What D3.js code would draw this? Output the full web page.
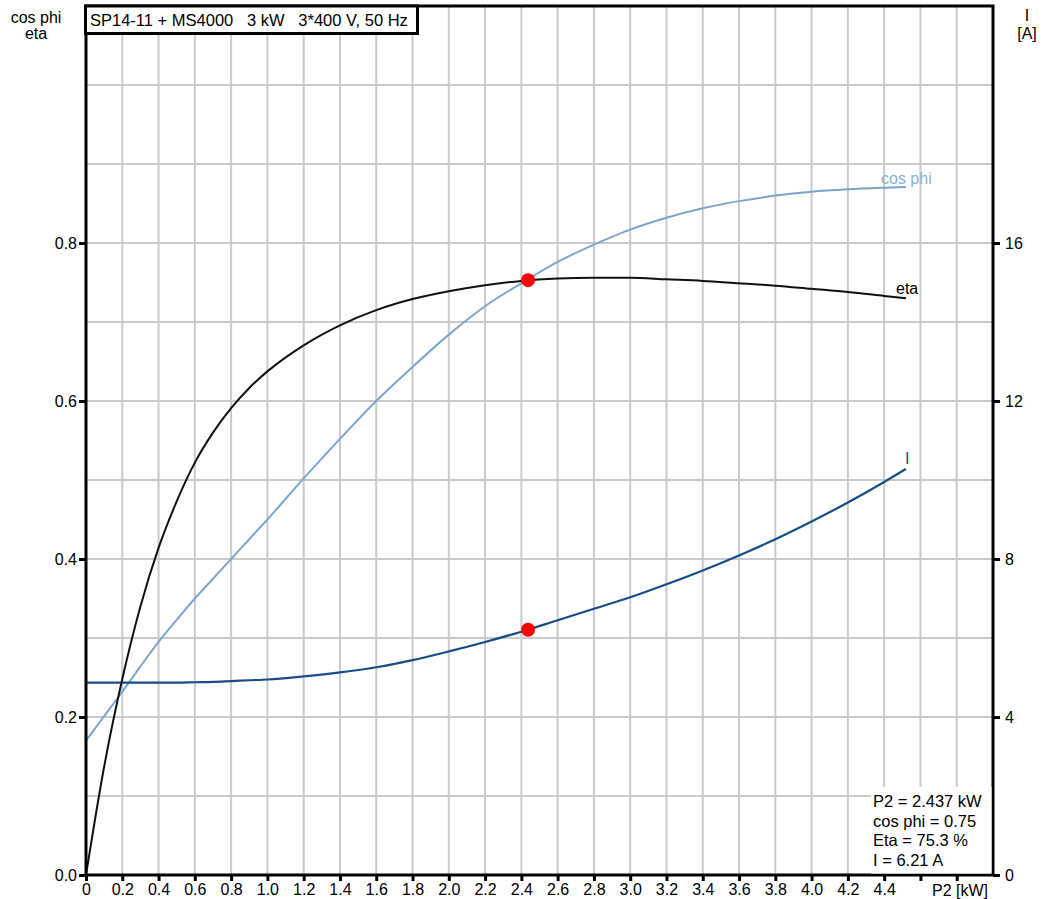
<!DOCTYPE html>
<html>
<head>
<meta charset="utf-8">
<script src="https://cdn.jsdelivr.net/npm/d3@7"></script>
<style>
  html, body { margin: 0; padding: 0; background: #fff; }
  svg { display: block; font-family: "Liberation Sans", Arial, sans-serif; }
</style>
</head>
<body>
<svg id="chart" width="1049" height="899"></svg>
<script>
// Motor curves: shaft power P2 [kW] against cos phi, efficiency and current
const p2 =     [0,    0.1,  0.2,  0.3,  0.4,  0.5,  0.6,  0.7,  0.8,  0.9,   1.0,   1.2,   1.4,   1.6,  1.8,  2.0,  2.2,   2.4,  2.6,  2.8,  3.0,  3.2,  3.4,  3.6,  3.8,  4.0,  4.2,  4.4,  4.52];
const cosPhi = [0.170,0.201,0.232,0.264,0.295,0.323,0.350,0.375,0.400,0.425, 0.450, 0.502, 0.552, 0.600,0.643,0.684,0.720, 0.749,0.776,0.798,0.817,0.832,0.844,0.853,0.860,0.865,0.868,0.870,0.871];
const eta =    [0,    0.137,0.248,0.340,0.414,0.473,0.522,0.560,0.591,0.6165,0.6375,0.6705,0.6958,0.715,0.729,0.739,0.7465,0.752,0.755,0.756,0.756,0.754,0.752,0.749,0.746,0.742,0.738,0.733,0.730];
const current =[4.87, 4.87, 4.87, 4.87, 4.87, 4.87, 4.88, 4.89, 4.91, 4.93,  4.95,  5.03,  5.13,  5.26, 5.44, 5.66, 5.90,  6.16, 6.45, 6.74, 7.03, 7.36, 7.71, 8.09, 8.50, 8.95, 9.43, 9.95, 10.28];

// Duty point
const dutyP2 = 2.437, dutyCos = 0.75, dutyEta = 0.753, dutyI = 6.21;

const title = "SP14-11 + MS4000   3 kW   3*400 V, 50 Hz";
const xTicks = [0,0.2,0.4,0.6,0.8,1.0,1.2,1.4,1.6,1.8,2.0,2.2,2.4,2.6,2.8,3.0,3.2,3.4,3.6,3.8,4.0,4.2,4.4,4.6,4.8];
const xLabelMax = 4.4;
const leftTicks = [0,0.2,0.4,0.6,0.8];
const rightTicks = [0,4,8,12,16];
const infoLines = [
  "P2 = " + dutyP2 + " kW",
  "cos phi = " + dutyCos.toFixed(2),
  "Eta = " + (dutyEta * 100).toFixed(1) + " %",
  "I = " + dutyI.toFixed(2) + " A"
];

const svg = d3.select("#chart");
const L = 86, R = 993, T = 6, B = 875;
const FS = 16;

const x = d3.scaleLinear().domain([0, 5.0]).range([L, R]);
const y = d3.scaleLinear().domain([0, 1.1]).range([B, T]);
const yI = d3.scaleLinear().domain([0, 22]).range([B, T]);

const gridColor = "#c9cacd";

// grid
const grid = svg.append("g");
grid.selectAll("line.v").data(d3.range(1, 25).map(i => i * 0.2)).join("line")
  .attr("x1", d => x(d)).attr("x2", d => x(d)).attr("y1", T).attr("y2", B)
  .attr("stroke", gridColor).attr("stroke-width", 2);
grid.selectAll("line.h").data(d3.range(1, 11).map(i => i * 0.1)).join("line")
  .attr("x1", L).attr("x2", R).attr("y1", d => y(d)).attr("y2", d => y(d))
  .attr("stroke", gridColor).attr("stroke-width", 2);

// curves (monotone interpolation honours the uneven P2 spacing)
const pts = vals => p2.map((p, i) => [p, vals[i]]);
const lineY = d3.line().x(d => x(d[0])).y(d => y(d[1])).curve(d3.curveMonotoneX);
const lineI = d3.line().x(d => x(d[0])).y(d => yI(d[1])).curve(d3.curveMonotoneX);

svg.append("path").attr("d", lineY(pts(cosPhi))).attr("fill", "none")
  .attr("stroke", "#7ea5cb").attr("stroke-width", 2);
svg.append("path").attr("d", lineI(pts(current))).attr("fill", "none")
  .attr("stroke", "#174d86").attr("stroke-width", 2.2);
svg.append("path").attr("d", lineY(pts(eta))).attr("fill", "none")
  .attr("stroke", "#111").attr("stroke-width", 2);

// curve labels
svg.append("text").attr("x", 881).attr("y", 184).attr("font-size", FS)
  .attr("fill", "#8fb0d2").text("cos phi");
svg.append("text").attr("x", 896).attr("y", 294).attr("font-size", FS)
  .attr("fill", "#000").text("eta");
svg.append("text").attr("x", 905).attr("y", 464).attr("font-size", FS)
  .attr("fill", "#174d86").text("I");

// axes
const styleAxis = g => {
  g.select(".domain").remove();
  g.selectAll(".tick line").attr("stroke", "#000").attr("stroke-width", 3);
  g.selectAll(".tick text").attr("fill", "#000").attr("font-size", FS)
    .attr("font-family", "Liberation Sans, Arial, sans-serif");
};

svg.append("g").attr("transform", `translate(0,${B})`)
  .call(d3.axisBottom(x).tickValues(xTicks).tickSize(6).tickPadding(3)
    .tickFormat(d => d > xLabelMax + 1e-9 ? "" : (d === 0 ? "0" : d3.format(".1f")(d))))
  .call(styleAxis);

svg.append("g").attr("transform", `translate(${L},0)`)
  .call(d3.axisLeft(y).tickValues(leftTicks).tickSize(7).tickPadding(2)
    .tickFormat(d3.format(".1f")))
  .call(styleAxis);

svg.append("g").attr("transform", `translate(${R},0)`)
  .call(d3.axisRight(yI).tickValues(rightTicks).tickSize(7).tickPadding(5)
    .tickFormat(d3.format("d")))
  .call(styleAxis);

// frame
svg.append("rect").attr("x", L).attr("y", T).attr("width", R - L).attr("height", B - T)
  .attr("fill", "none").attr("stroke", "#000").attr("stroke-width", 3);

// axis titles
const axT = svg.append("g").attr("font-size", FS).attr("text-anchor", "middle").attr("fill", "#000");
axT.append("text").attr("x", 36).attr("y", 23).text("cos phi");
axT.append("text").attr("x", 36).attr("y", 39).text("eta");
axT.append("text").attr("x", 1027).attr("y", 21).text("I");
axT.append("text").attr("x", 1027).attr("y", 39).text("[A]");
svg.append("text").attr("x", 960).attr("y", 896).attr("font-size", FS)
  .attr("text-anchor", "middle").text("P2 [kW]");

// title box
svg.append("rect").attr("x", 85.5).attr("y", 6).attr("width", 332).attr("height", 27.5)
  .attr("fill", "#fff").attr("stroke", "#000").attr("stroke-width", 3);
svg.append("text").attr("x", 90).attr("y", 26).attr("font-size", 16.5)
  .attr("xml:space", "preserve").style("white-space", "pre").text(title);

// duty point info
svg.append("rect").attr("x", 871).attr("y", 787).attr("width", R - 1.5 - 871).attr("height", B - 1.5 - 787)
  .attr("fill", "#fff");
svg.append("g").selectAll("text").data(infoLines).join("text")
  .attr("x", 873).attr("y", (d, i) => 807 + i * 19.5).attr("font-size", 16.5).text(d => d);

// duty point markers
svg.append("circle").attr("cx", x(dutyP2)).attr("cy", y(dutyEta)).attr("r", 7).attr("fill", "#ff0000");
svg.append("circle").attr("cx", x(dutyP2)).attr("cy", yI(dutyI)).attr("r", 7).attr("fill", "#ff0000");
</script>
</body>
</html>
